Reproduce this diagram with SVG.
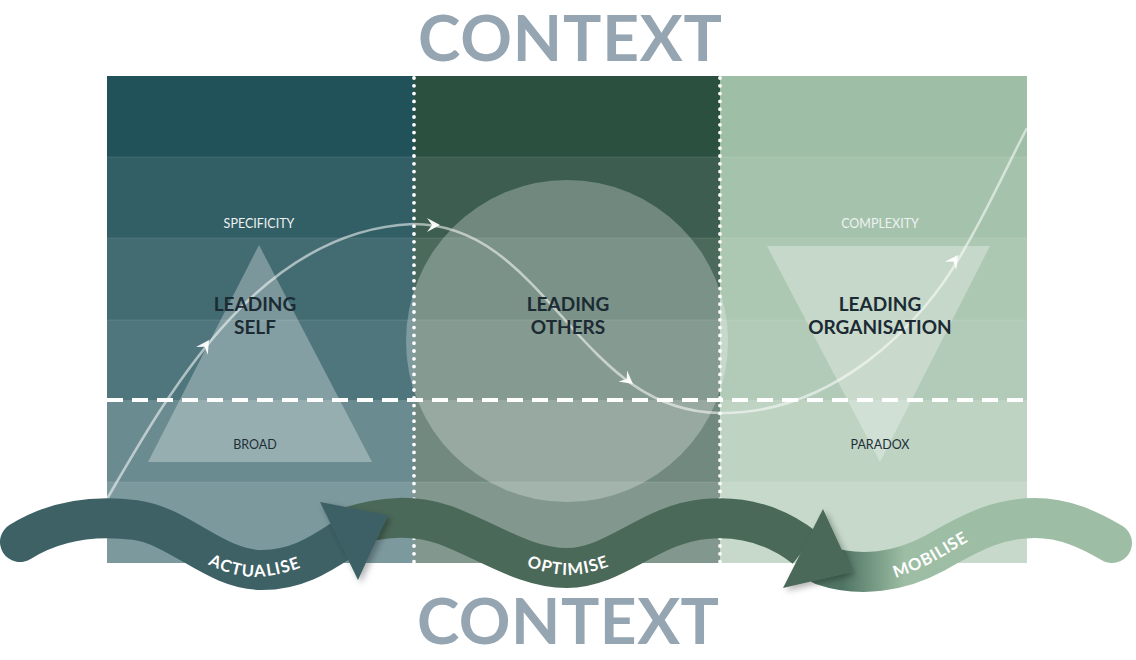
<svg xmlns="http://www.w3.org/2000/svg" width="1136" height="660" viewBox="0 0 1136 660">
<defs>
<style>
.ctx{font-family:Lato,"Liberation Sans",sans-serif;font-weight:700;font-size:64px;fill:#95a5b1;}
.lead{font-family:Lato,"Liberation Sans",sans-serif;font-weight:700;font-size:19px;fill:#1c2b33;text-anchor:middle;}
.small{font-family:Lato,"Liberation Sans",sans-serif;font-size:12.5px;text-anchor:middle;}
.lt{fill:#eef2f2;}
.dk{fill:#1e2f38;}
.rib{fill:none;stroke-width:40;}
.rt{font-family:Lato,"Liberation Sans",sans-serif;font-weight:700;font-size:16.5px;fill:#ffffff;letter-spacing:0.6px;}
.ov{fill:#ffffff;}
.rowline{stroke:#ffffff;stroke-opacity:0.1;stroke-width:1;}
.dots{stroke:#ffffff;stroke-width:3.8;stroke-linecap:round;stroke-dasharray:0 7.8;}
.curve{fill:none;stroke:#ffffff;stroke-opacity:0.55;stroke-width:2.6;}
.ah{fill:#ffffff;fill-opacity:0.95;}
</style>
<filter id="sh" x="-30%" y="-30%" width="160%" height="160%">
<feDropShadow dx="3" dy="3" stdDeviation="3" flood-color="#000" flood-opacity="0.3"/>
</filter>
<linearGradient id="mobg" gradientUnits="userSpaceOnUse" x1="842" y1="0" x2="905" y2="0">
<stop offset="0" stop-color="#4f7463"/>
<stop offset="1" stop-color="#9dbea4"/>
</linearGradient>
<path id="tpA" d="M185,545 C220,566 238,571 255,571 C275,571 300,564 325,549"/>
<path id="tpO" d="M500,548 C530,563 550,569 568,569 C586,569 606,563 636,548"/>
<path id="tpM" d="M858,580 C890,576 910,567 930,557 C950,546 970,532 998,519"/>
</defs>
<rect width="1136" height="660" fill="#ffffff"/>

<g id="grid">
<rect x="107" y="76" width="307" height="487" fill="#21525a"/>
<rect x="414" y="76" width="306" height="487" fill="#2c5040"/>
<rect x="720" y="76" width="307" height="487" fill="#9ebea5"/>
<rect class="ov" x="107" y="157" width="920" height="81" fill-opacity="0.08"/>
<rect class="ov" x="107" y="238" width="920" height="82" fill-opacity="0.15"/>
<rect class="ov" x="107" y="320" width="920" height="80" fill-opacity="0.21"/>
<rect class="ov" x="107" y="400" width="920" height="82" fill-opacity="0.33"/>
<rect class="ov" x="107" y="482" width="920" height="81" fill-opacity="0.41"/>
<line class="rowline" x1="107" y1="157" x2="1027" y2="157"/>
<line class="rowline" x1="107" y1="238" x2="1027" y2="238"/>
<line class="rowline" x1="107" y1="320" x2="1027" y2="320"/>
<line class="rowline" x1="107" y1="482" x2="1027" y2="482"/>
</g>

<g id="node-leading-self">
<polygon points="259,245 372,462 148,462" fill="#ffffff" fill-opacity="0.3"/>
</g>
<g id="node-leading-others">
<circle cx="567" cy="341" r="161" fill="#ffffff" fill-opacity="0.27"/>
</g>
<g id="node-leading-organisation">
<polygon points="767,246 990,246 880,462" fill="#ffffff" fill-opacity="0.3"/>
</g>

<g id="dividers">
<line x1="107" y1="400" x2="1027" y2="400" stroke="#ffffff" stroke-width="4" stroke-dasharray="16 9"/>
<line class="dots" x1="414" y1="78" x2="414" y2="563"/>
<line class="dots" x1="720" y1="78" x2="720" y2="563"/>
</g>

<g id="connectors">
<path class="curve" d="M107,499 C170,390 260,230 413,224 C480,224 520,270 565,320 C610,370 650,412 720,413 C830,414 920,330 965,248 C990,205 1010,160 1027,128"/>
<path class="ah" d="M0,0 L-13,-7 L-8,0 L-13,7 Z" transform="translate(209,340) rotate(-57)"/>
<path class="ah" d="M0,0 L-13,-7 L-8,0 L-13,7 Z" transform="translate(440,225) rotate(0)"/>
<path class="ah" d="M0,0 L-13,-7 L-8,0 L-13,7 Z" transform="translate(633,384) rotate(38)"/>
<path class="ah" d="M0,0 L-13,-7 L-8,0 L-13,7 Z" transform="translate(958,255) rotate(-55)"/>
</g>

<g id="labels">
<text class="small lt" x="259" y="228">SPECIFICITY</text>
<text class="small lt" x="880" y="228">COMPLEXITY</text>
<text class="lead" x="255" y="311">LEADING</text>
<text class="lead" x="255" y="334">SELF</text>
<text class="lead" x="568" y="311">LEADING</text>
<text class="lead" x="568" y="334">OTHERS</text>
<text class="lead" x="880" y="311">LEADING</text>
<text class="lead" x="880" y="334">ORGANISATION</text>
<text class="small dk" x="255" y="449">BROAD</text>
<text class="small dk" x="880" y="449">PARADOX</text>
</g>

<g id="node-mobilise">
<path class="rib" stroke="url(#mobg)" stroke-linecap="round" d="M822,565 C860,578 900,572 935,553 C975,530 1000,518 1035,518 C1065,518 1090,530 1112,543"/>
<text class="rt" dy="5.8"><textPath href="#tpM" startOffset="50%" text-anchor="middle">MOBILISE</textPath></text>
</g>
<g id="node-optimise">
<path class="rib" stroke="#4b6959" d="M345,528 C385,515 415,515 445,525 C490,542 525,568 567,568 C615,568 650,524 705,519 C745,515 778,527 805,548"/>
<text class="rt" dy="5.8"><textPath href="#tpO" startOffset="50%" text-anchor="middle">OPTIMISE</textPath></text>
<polygon points="823,509 852,572 783,588" fill="#4b6959" filter="url(#sh)"/>
</g>
<g id="node-actualise">
<path class="rib" stroke="#3e6166" stroke-linecap="round" d="M20,542 C55,520 95,515 135,520 C180,526 215,570 262,570 C295,570 318,556 342,540"/>
<text class="rt" dy="5.8"><textPath href="#tpA" startOffset="50%" text-anchor="middle">ACTUALISE</textPath></text>
<polygon points="320,502 388,515 358,580" fill="#3e6166" filter="url(#sh)"/>
</g>

<g id="context">
<text class="ctx" x="418" y="61" textLength="304" lengthAdjust="spacing">CONTEXT</text>
<text class="ctx" x="417" y="644" textLength="302" lengthAdjust="spacing">CONTEXT</text>
</g>
</svg>
